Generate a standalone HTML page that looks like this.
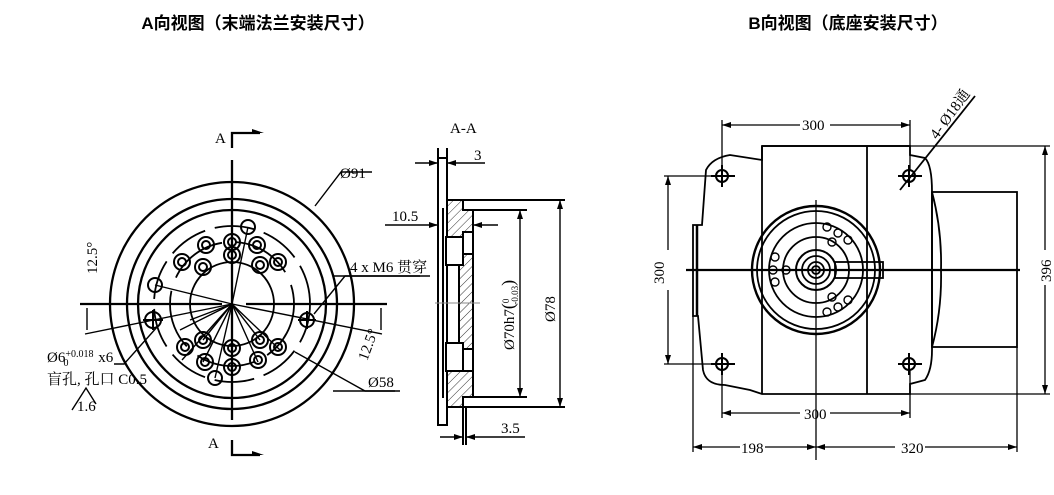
<!DOCTYPE html>
<html><head><meta charset="utf-8"><style>
body{margin:0;background:#fff;width:1054px;height:495px;overflow:hidden}
svg{display:block}
.t{font-family:"Liberation Serif","Noto Serif CJK SC",serif;font-size:15px;fill:#000}
.h{font-family:"Liberation Sans","Noto Sans CJK SC",sans-serif;font-size:17px;font-weight:bold;fill:#000}
</style></head><body>
<svg width="1054" height="495" viewBox="0 0 1054 495" xmlns="http://www.w3.org/2000/svg">
<defs>
<marker id="ar" markerWidth="9" markerHeight="6" refX="9" refY="3" orient="auto" markerUnits="userSpaceOnUse"><path d="M0,0 L9,3 L0,6 Z" fill="#000"/></marker>
<pattern id="hat" width="6" height="6" patternUnits="userSpaceOnUse" patternTransform="rotate(45)"><line x1="0" y1="0" x2="0" y2="6" stroke="#000" stroke-width="0.8"/></pattern>
</defs>
<text x="258" y="29" class="h" text-anchor="middle">A向视图（末端法兰安装尺寸）</text>
<text x="848" y="29" class="h" text-anchor="middle">B向视图（底座安装尺寸）</text>

<!-- LEFT VIEW -->
<g fill="none" stroke="#000" stroke-width="2.3">
<circle cx="232" cy="304" r="122"/>
<circle cx="232" cy="304" r="105"/>
<circle cx="232" cy="304" r="94"/>
<circle cx="232" cy="304" r="78" stroke-dasharray="40 10" stroke-width="1.8"/>
<circle cx="232" cy="304" r="62" stroke-dasharray="60 14" stroke-width="1.8"/>
<circle cx="232" cy="304" r="42" stroke-width="1.8"/>
<line x1="80" y1="304" x2="222" y2="304"/><line x1="246" y1="304" x2="387" y2="304"/>
<line x1="232" y1="160" x2="232" y2="420"/>
<polyline points="232,148 232,133 260,133" /><polyline points="232,440 232,455 260,455"/>
</g>
<path d="M252,133 L264,133 L252,129 Z M252,455 L264,455 L252,451Z" fill="#000"/>
<text x="215" y="143" class="t" font-size="16">A</text><text x="208" y="448" class="t" font-size="16">A</text>
<g fill="none" stroke="#000" stroke-width="2">
<g>
<circle cx="232" cy="242" r="8"/><circle cx="232" cy="242" r="4"/>
<circle cx="232" cy="255" r="8"/><circle cx="232" cy="255" r="4"/>
<circle cx="206" cy="245" r="8"/><circle cx="206" cy="245" r="4"/>
<circle cx="257" cy="245" r="8"/><circle cx="257" cy="245" r="4"/>
<circle cx="182" cy="262" r="8"/><circle cx="182" cy="262" r="4"/>
<circle cx="203" cy="267" r="8"/><circle cx="203" cy="267" r="4"/>
<circle cx="260" cy="265" r="8"/><circle cx="260" cy="265" r="4"/>
<circle cx="278" cy="262" r="8"/><circle cx="278" cy="262" r="4"/>
<circle cx="185" cy="347" r="8"/><circle cx="185" cy="347" r="4"/>
<circle cx="203" cy="340" r="8"/><circle cx="203" cy="340" r="4"/>
<circle cx="232" cy="348" r="8"/><circle cx="232" cy="348" r="4"/>
<circle cx="260" cy="340" r="8"/><circle cx="260" cy="340" r="4"/>
<circle cx="278" cy="347" r="8"/><circle cx="278" cy="347" r="4"/>
<circle cx="205" cy="362" r="8"/><circle cx="205" cy="362" r="4"/>
<circle cx="232" cy="367" r="8"/><circle cx="232" cy="367" r="4"/>
<circle cx="258" cy="360" r="8"/><circle cx="258" cy="360" r="4"/>
</g>
<circle cx="248" cy="227" r="7"/><circle cx="155" cy="285" r="7"/><circle cx="215" cy="378" r="7"/>
<circle cx="153" cy="320" r="8"/><circle cx="307" cy="320" r="7"/>
<line x1="143" y1="320" x2="163" y2="320"/><line x1="153" y1="310" x2="153" y2="330"/>
<line x1="298" y1="320" x2="316" y2="320"/><line x1="307" y1="311" x2="307" y2="329"/>
</g>
<g stroke="#000" stroke-width="1.4" fill="none">
<line x1="232" y1="304" x2="155" y2="285"/><line x1="232" y1="304" x2="85" y2="334"/>
<line x1="232" y1="304" x2="382" y2="334"/><line x1="232" y1="304" x2="248" y2="227"/>
<line x1="232" y1="304" x2="182" y2="360"/><line x1="232" y1="304" x2="203" y2="362"/>
<line x1="232" y1="304" x2="215" y2="378"/><line x1="232" y1="304" x2="232" y2="370"/>
<line x1="232" y1="304" x2="258" y2="362"/><line x1="232" y1="304" x2="280" y2="350"/>
<line x1="232" y1="304" x2="203" y2="340"/><line x1="232" y1="304" x2="190" y2="320"/>
<line x1="232" y1="304" x2="260" y2="340"/><line x1="232" y1="304" x2="180" y2="330"/>
<line x1="87" y1="308" x2="87" y2="330"/><line x1="381" y1="308" x2="381" y2="330"/>
<polyline points="315,206 341,172 372,172"/>
<polyline points="314,314 345,276 420,276"/>
<polyline points="295,352 365,391 400,391"/>
<polyline points="158,326 124,364 114,364"/>
<polyline points="72,410 86,388 96,404"/>
</g>
<text x="340" y="178" class="t">Ø91</text>
<text x="350" y="272" class="t">4 x M6 贯穿</text>
<text x="368" y="387" class="t">Ø58</text>
<text x="75" y="288" class="t" transform="rotate(-90 79 270)">12.5°</text>
<text x="355" y="360" class="t" transform="rotate(-70 362 352)">12.5°</text>
<text x="47" y="362" class="t" font-size="12">Ø6<tspan dy="-5" font-size="10">+0.018</tspan><tspan dx="-30" dy="9" font-size="10">0</tspan><tspan dx="26" dy="-4"> x6</tspan></text>
<text x="47" y="384" class="t" font-size="12">盲孔, 孔口  C0.5</text>
<text x="77" y="411" class="t" font-size="11">1.6</text>

<!-- SECTION A-A -->
<text x="450" y="133" class="t" font-size="15">A-A</text>
<g stroke="#000" stroke-width="2" fill="none">
<rect x="438" y="158" width="9" height="267" fill="#fff"/>
<path d="M447,200 L463,200 L463,210 L473,210 L473,397 L463,397 L463,407 L447,407 Z" fill="url(#hat)"/>
<rect x="446" y="237" width="17" height="28" fill="#fff"/><rect x="463" y="232" width="10" height="22" fill="#fff"/>
<rect x="446" y="343" width="17" height="28" fill="#fff"/><rect x="463" y="349" width="10" height="22" fill="#fff"/>
<rect x="447" y="265" width="12" height="78" fill="#fff"/>
<line x1="443" y1="208" x2="443" y2="398"/>
<line x1="463" y1="200" x2="565" y2="200"/><line x1="473" y1="210" x2="527" y2="210"/>
<line x1="473" y1="397" x2="527" y2="397"/><line x1="463" y1="407" x2="565" y2="407"/>
<line x1="438" y1="158" x2="438" y2="148"/><line x1="447" y1="158" x2="447" y2="148"/>
<line x1="463" y1="407" x2="463" y2="445"/><line x1="466" y1="407" x2="466" y2="445"/>
</g>
<g stroke="#000" stroke-width="1.4" fill="none">
<line x1="415" y1="163" x2="438" y2="163" marker-end="url(#ar)"/><line x1="485" y1="163" x2="447" y2="163" marker-end="url(#ar)"/>
<line x1="385" y1="225" x2="438" y2="225" marker-end="url(#ar)"/><line x1="498" y1="225" x2="473" y2="225" marker-end="url(#ar)"/>
<line x1="440" y1="437" x2="463" y2="437" marker-end="url(#ar)"/><line x1="525" y1="437" x2="466" y2="437" marker-end="url(#ar)"/>
<line x1="520" y1="300" x2="520" y2="210" marker-end="url(#ar)"/><line x1="520" y1="300" x2="520" y2="397" marker-end="url(#ar)"/>
<line x1="560" y1="300" x2="560" y2="200" marker-end="url(#ar)"/><line x1="560" y1="300" x2="560" y2="407" marker-end="url(#ar)"/>
<line x1="333" y1="276" x2="430" y2="276"/><line x1="333" y1="391" x2="395" y2="391"/>
</g>
<line x1="435" y1="303" x2="480" y2="303" stroke="#888" stroke-width="1"/>
<text x="474" y="160" class="t">3</text><text x="392" y="221" class="t">10.5</text><text x="501" y="433" class="t">3.5</text>
<text x="0" y="0" class="t" transform="translate(514 350) rotate(-90)">Ø70h7<tspan font-size="18">(</tspan><tspan font-size="9" dy="-5">0</tspan><tspan font-size="9" dx="-6" dy="9">-0.03</tspan><tspan font-size="18" dy="-4">)</tspan></text>
<text x="0" y="0" class="t" transform="translate(555 322) rotate(-90)">Ø78</text>

<!-- RIGHT VIEW -->
<g stroke="#000" stroke-width="1.8" fill="none">
<path d="M762,146 L762,160 L730,155 Q712,158 706,170 L702,225 L693,225 L693,316 L698,316 L703,370 Q706,385 725,385 L750,390 L762,394 L910,394 L910,384 L925,380 Q932,370 932,350 L932,192 Q932,165 925,158 L910,155 L910,146 Z"/>
<line x1="762" y1="146" x2="910" y2="146"/>
<line x1="762" y1="146" x2="762" y2="394"/><line x1="867" y1="146" x2="867" y2="394"/>
<rect x="932" y="192" width="85" height="155"/>
<path d="M932,192 Q942,230 941,270 Q942,310 932,347"/>
<line x1="697" y1="225" x2="697" y2="316" stroke-width="2.5"/>
<circle cx="816" cy="270" r="64" stroke-width="2.4"/>
<circle cx="816" cy="270" r="59"/>
<circle cx="816" cy="270" r="47"/><circle cx="816" cy="270" r="33"/>
<circle cx="816" cy="270" r="20" stroke-width="2"/><circle cx="816" cy="270" r="14"/><circle cx="816" cy="270" r="8"/><circle cx="816" cy="270" r="4"/>
<rect x="835" y="262" width="48" height="16"/>
<g stroke-width="1.4">
<circle cx="827" cy="227" r="4"/><circle cx="838" cy="233" r="4"/><circle cx="848" cy="240" r="4"/><circle cx="832" cy="242" r="4"/>
<circle cx="775" cy="257" r="4"/><circle cx="773" cy="270" r="4"/><circle cx="786" cy="270" r="4"/><circle cx="775" cy="282" r="4"/>
<circle cx="832" cy="297" r="4"/><circle cx="848" cy="300" r="4"/><circle cx="838" cy="307" r="4"/><circle cx="827" cy="312" r="4"/>
</g>
<g stroke-width="2">
<circle cx="722" cy="176" r="6"/><circle cx="909" cy="176" r="6"/><circle cx="722" cy="364" r="6"/><circle cx="909" cy="364" r="6"/>
<path d="M711,176H735M722,165V187M898,176H922M909,165V187M711,364H735M722,353V375M898,364H922M909,353V375"/>
</g>
<line x1="686" y1="270" x2="1020" y2="270" stroke-width="2.2"/>
<line x1="816" y1="200" x2="816" y2="460" stroke-width="1.3"/>
</g>
<g stroke="#000" stroke-width="1.3" fill="none">
<line x1="722" y1="120" x2="722" y2="170"/><line x1="910" y1="120" x2="910" y2="170"/>
<line x1="722" y1="370" x2="722" y2="418"/><line x1="910" y1="370" x2="910" y2="418"/>
<line x1="693" y1="316" x2="693" y2="452"/><line x1="1017" y1="347" x2="1017" y2="452"/>
<line x1="664" y1="176" x2="715" y2="176"/><line x1="664" y1="364" x2="715" y2="364"/>
<line x1="910" y1="146" x2="1050" y2="146"/><line x1="910" y1="394" x2="1050" y2="394"/>
<line x1="800" y1="125" x2="722" y2="125" marker-end="url(#ar)"/><line x1="830" y1="125" x2="910" y2="125" marker-end="url(#ar)"/>
<line x1="800" y1="413" x2="722" y2="413" marker-end="url(#ar)"/><line x1="830" y1="413" x2="910" y2="413" marker-end="url(#ar)"/>
<line x1="740" y1="447" x2="693" y2="447" marker-end="url(#ar)"/><line x1="765" y1="447" x2="816" y2="447" marker-end="url(#ar)"/>
<line x1="895" y1="447" x2="816" y2="447" marker-end="url(#ar)"/><line x1="925" y1="447" x2="1017" y2="447" marker-end="url(#ar)"/>
<line x1="668" y1="250" x2="668" y2="176" marker-end="url(#ar)"/><line x1="668" y1="290" x2="668" y2="364" marker-end="url(#ar)"/>
<line x1="1045" y1="250" x2="1045" y2="146" marker-end="url(#ar)"/><line x1="1045" y1="285" x2="1045" y2="394" marker-end="url(#ar)"/>
<line x1="900" y1="190" x2="975" y2="96" stroke-width="1.8"/>
</g>
<text x="802" y="130" class="t">300</text><text x="804" y="419" class="t">300</text>
<text x="741" y="453" class="t">198</text><text x="901" y="453" class="t">320</text>
<text x="0" y="0" class="t" transform="translate(664 284) rotate(-90)">300</text>
<text x="0" y="0" class="t" transform="translate(1051 282) rotate(-90)">396</text>
<text x="0" y="0" class="t" transform="translate(937 140) rotate(-54)">4- Ø18通</text>
</svg>
</body></html>
